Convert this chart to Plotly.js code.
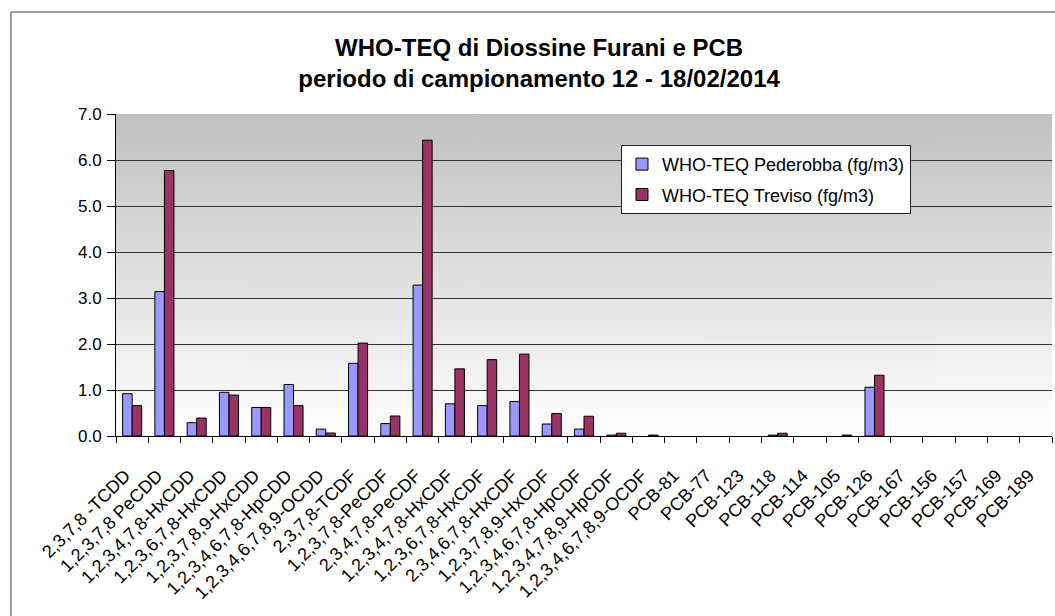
<!DOCTYPE html>
<html>
<head>
<meta charset="utf-8">
<script src="https://cdn.plot.ly/plotly-3.0.1.min.js"></script>
<style>html,body{margin:0;padding:0;background:#fff;}#chart{width:1055px;height:616px;}</style>
</head>
<body>
<div id="chart"></div>
<script>
const categories = [
  "2,3,7,8 -TCDD", "1,2,3,7,8 PeCDD", "1,2,3,4,7,8-HxCDD", "1,2,3,6,7,8-HxCDD",
  "1,2,3,7,8,9-HxCDD", "1,2,3,4,6,7,8-HpCDD", "1,2,3,4,6,7,8,9-OCDD", "2,3,7,8-TCDF",
  "1,2,3,7,8-PeCDF", "2,3,4,7,8-PeCDF", "1,2,3,4,7,8-HxCDF", "1,2,3,6,7,8-HxCDF",
  "2,3,4,6,7,8-HxCDF", "1,2,3,7,8,9-HxCDF", "1,2,3,4,6,7,8-HpCDF", "1,2,3,4,7,8,9-HpCDF",
  "1,2,3,4,6,7,8,9-OCDF", "PCB-81", "PCB-77", "PCB-123", "PCB-118", "PCB-114",
  "PCB-105", "PCB-126", "PCB-167", "PCB-156", "PCB-157", "PCB-169", "PCB-189"
];
const pederobba = [0.92, 3.14, 0.29, 0.95, 0.62, 1.12, 0.15, 1.58, 0.27, 3.28, 0.70, 0.66, 0.75, 0.26, 0.15, 0.02, 0.0,
  0, 0, 0, 0.02, 0, 0.0, 1.06, 0, 0, 0, 0, 0];
const treviso = [0.66, 5.77, 0.39, 0.89, 0.62, 0.66, 0.065, 2.02, 0.435, 6.43, 1.46, 1.66, 1.78, 0.49, 0.43, 0.06, 0.02,
  0, 0, 0, 0.06, 0, 0.02, 1.32, 0, 0, 0, 0, 0];
const seriesNames = ["WHO-TEQ Pederobba (fg/m3)", "WHO-TEQ Treviso (fg/m3)"];
const titleLines = ["WHO-TEQ di Diossine Furani e PCB", "periodo di campionamento 12 - 18/02/2014"];

// gradient background image for plot area
const cv = document.createElement('canvas');
cv.width = 4; cv.height = 256;
const ctx = cv.getContext('2d');
const g = ctx.createLinearGradient(0, 0, 0, 256);
g.addColorStop(0, '#C0C0C0');
g.addColorStop(1, '#FFFFFF');
ctx.fillStyle = g; ctx.fillRect(0, 0, 4, 256);
const bgUrl = cv.toDataURL('image/png');

const FONT = 'Liberation Sans, Arial, sans-serif';
const lineW = arr => arr.map(v => (v > 0 ? 1 : 0));

const traces = [
  {type: 'bar', name: seriesNames[0], x: categories, y: pederobba, legendgroup: 'a',
   marker: {color: '#9999FF', line: {color: '#000000', width: lineW(pederobba)}}},
  {type: 'bar', name: seriesNames[1], x: categories, y: treviso, legendgroup: 'b',
   marker: {color: '#993366', line: {color: '#000000', width: lineW(treviso)}}}
];

const layout = {
  width: 1055, height: 616,
  margin: {l: 116, r: 3, t: 114, b: 180},
  paper_bgcolor: '#ffffff',
  plot_bgcolor: 'rgba(0,0,0,0)',
  font: {family: FONT, color: '#000'},
  title: {text: titleLines.map(t => '<b>' + t + '</b>').join('<br>'),
          font: {family: FONT, size: 24, color: '#000'},
          x: 0.511, xref: 'container', xanchor: 'center',
          y: 1 - 56/616, yref: 'container', yanchor: 'middle'},
  barmode: 'group', bargap: 0.41, bargroupgap: 0,
  showlegend: true,
  legend: {x: 0.5395, y: 0.904, xanchor: 'left', yanchor: 'top',
           bgcolor: '#ffffff', bordercolor: '#222', borderwidth: 1,
           font: {family: FONT, size: 18, color: '#000'},
           traceorder: 'grouped', tracegroupgap: 4},
  xaxis: {type: 'category', range: [-0.5, 28.5], tickson: 'boundaries',
          ticks: 'outside', ticklen: 6, tickcolor: '#000', tickwidth: 1,
          tickangle: -45, tickfont: {family: FONT, size: 18, color: '#000'},
          showline: true, linecolor: '#000', linewidth: 1, showgrid: false,
          ticklabelstandoff: 21, ticklabelshift: -7, fixedrange: true},
  yaxis: {range: [0, 7], dtick: 1, tickformat: '.1f',
          ticks: 'outside', ticklen: 8, tickcolor: '#000', tickwidth: 1,
          tickfont: {family: FONT, size: 17, color: '#000'},
          showline: true, linecolor: '#000', linewidth: 1,
          showgrid: true, gridcolor: '#333', gridwidth: 1, zeroline: false,
          ticklabelstandoff: 2, fixedrange: true},
  images: [{source: bgUrl, xref: 'paper', yref: 'paper', x: 0, y: 1, sizex: 1, sizey: 1,
            xanchor: 'left', yanchor: 'top', sizing: 'stretch', layer: 'below'}],
  shapes: [{type: 'rect', xref: 'paper', yref: 'paper',
            x0: (11 - 116) / 936, x1: (1075 - 116) / 936,
            y0: (436 - 650) / 322, y1: (436 - 12) / 322,
            line: {color: '#444', width: 1}, fillcolor: 'rgba(0,0,0,0)', layer: 'below'}]
};

Plotly.newPlot('chart', traces, layout, {displayModeBar: false, staticPlot: true});
</script>
</body>
</html>
